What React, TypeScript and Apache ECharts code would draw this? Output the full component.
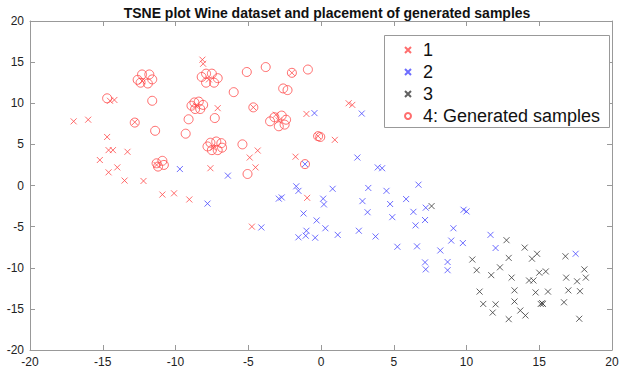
import React, { useEffect, useRef } from "react";
import * as echarts from "echarts";

const titleText = "TSNE plot Wine dataset and placement of generated samples";
const seriesNames = ["1", "2", "3", "4: Generated samples"];
const axisTicks = [-20, -15, -10, -5, 0, 5, 10, 15, 20];

const class1: number[][] = [
  [-8.15, 15.3], [-8.1, 14.8], [-12.3, 12.7], [-7.7, 12.9], [-14.5, 10.3], [-14.2, 10.4],
  [-8.6, 9.7], [-7.1, 9.4], [-17.0, 7.8], [-16.0, 8.0], [-12.8, 7.7], [-14.7, 5.9],
  [-14.6, 4.3], [-14.3, 4.3], [-13.3, 4.1], [-15.2, 3.1], [-7.4, 4.6], [-2.0, 13.7],
  [-4.65, 9.5], [-2.9, 7.9], [-3.1, 8.6], [-1.0, 8.7], [1.9, 10.0], [2.15, 9.8],
  [-0.2, 6.0], [0.95, 5.55], [-4.35, 4.25], [-4.9, 3.4], [-1.75, 3.5], [-11.3, 2.5],
  [-7.6, 2.1], [-14.0, 2.2], [-14.6, 1.6], [-13.5, 0.6], [-12.2, 0.55], [-10.9, -1.1],
  [-10.1, -0.95], [-9.05, -1.7], [-4.5, 2.2], [-0.95, -1.5], [-4.75, -5.0],
];

const class2: number[][] = [
  [-0.45, 8.8], [2.8, 8.75], [2.5, 3.4], [-9.7, 2.0], [-6.4, 1.2], [-7.8, -2.2],
  [-1.1, 2.6], [3.9, 2.2], [4.2, 2.1], [-1.7, -0.1], [-1.55, -0.65], [-2.9, -1.6],
  [-2.7, -1.45], [0.8, -0.4], [0.15, -1.6], [0.2, -2.3], [3.25, -0.3], [2.85, -1.9],
  [3.2, -3.25], [-1.2, -3.4], [-0.3, -4.25], [-4.1, -5.1], [0.3, -5.2], [-1.0, -5.5],
  [-1.05, -6.1], [-1.55, -6.3], [-0.4, -6.35], [1.15, -6.0], [2.6, -5.5], [3.75, -6.2],
  [4.5, -0.65], [6.7, 0.1], [4.75, -2.25], [5.85, -1.65], [4.9, -3.85], [6.35, -3.2],
  [7.2, -2.7], [7.15, -4.2], [9.8, -2.95], [10.0, -3.15], [6.5, -4.85], [9.1, -5.2],
  [5.25, -7.45], [6.6, -7.4], [8.95, -6.7], [9.75, -7.0], [8.2, -7.9], [11.65, -6.0],
  [12.0, -7.6], [8.7, -9.3], [8.7, -10.3], [7.15, -9.35], [7.2, -10.2], [17.5, -8.3],
];

const class3: number[][] = [
  [7.6, -2.5], [12.75, -6.65], [10.4, -9.0], [10.7, -10.3], [12.9, -8.8], [14.0, -7.55],
  [14.85, -8.3], [14.5, -8.9], [12.3, -9.95], [11.7, -10.9], [13.1, -11.2], [15.0, -10.6],
  [15.45, -10.45], [14.3, -11.55], [14.6, -11.55], [16.8, -8.6], [18.1, -10.2], [18.2, -11.2],
  [16.85, -11.2], [17.6, -11.65], [10.9, -12.9], [13.3, -12.75], [14.75, -13.0], [15.6, -12.9],
  [17.0, -12.75], [17.8, -12.85], [11.15, -14.4], [12.0, -14.45], [13.3, -14.1], [15.1, -14.4],
  [15.25, -14.4], [15.2, -14.3], [16.7, -14.2], [11.8, -15.45], [13.7, -15.2], [14.05, -15.8],
  [12.9, -16.25], [17.75, -16.2],
];

const generated: number[][] = [
  [-12.6, 12.85], [-12.3, 13.5], [-11.8, 13.5], [-11.6, 12.9], [-11.9, 12.4], [-12.4, 12.5],
  [-8.2, 13.2], [-7.9, 13.6], [-7.5, 13.6], [-7.1, 13.05], [-7.35, 12.5], [-7.9, 12.5],
  [-6.0, 11.35], [-14.7, 10.6], [-11.6, 10.3],
  [-8.9, 9.7], [-8.7, 10.1], [-8.4, 10.2], [-8.1, 9.8], [-8.3, 9.3], [-8.65, 9.3],
  [-9.1, 8.05], [-7.3, 8.2], [-12.8, 7.65], [-11.4, 6.65], [-9.3, 6.3],
  [-7.8, 4.75], [-7.6, 5.2], [-7.2, 5.35], [-6.85, 5.15], [-6.8, 4.6], [-7.1, 4.3], [-7.5, 4.3],
  [-11.3, 2.7], [-10.9, 3.0], [-10.8, 2.5], [-11.2, 2.3],
  [-5.1, 13.8], [-3.8, 14.4], [-2.0, 13.7], [-0.9, 14.1], [-2.6, 11.8], [-2.3, 11.6], [-4.65, 9.5],
  [-3.5, 7.8], [-3.2, 8.3], [-2.7, 8.5], [-2.4, 8.0], [-2.5, 7.4], [-2.9, 7.2],
  [-0.2, 6.0], [-0.05, 5.9], [-5.4, 5.0], [-1.1, 2.6], [-5.05, 1.4],
];

const CROSS = "path://M0 0L10 10M10 0L0 10";
const RED = "#ff4848";
const BLUE = "#4848ff";
const BLACK = "#3a3a3a";
const FONT = "Liberation Sans, Arial, sans-serif";

export default function App() {
  const ref = useRef<HTMLDivElement>(null);
  useEffect(() => {
    if (!ref.current) return;
    const chart = echarts.init(ref.current, undefined, { renderer: "svg" });
    const axisCommon = {
      type: "value" as const,
      min: axisTicks[0],
      max: axisTicks[axisTicks.length - 1],
      interval: 5,
      axisLine: { show: true, onZero: false, lineStyle: { color: "#999", width: 1 } },
      axisTick: { show: true, inside: true, length: 5, lineStyle: { color: "#999" } },
      splitLine: { show: false },
    };
    const label = { show: true, color: "#222", fontSize: 12, fontFamily: FONT, margin: 6 };
    const crossSeries = (name: string, data: number[][], color: string) => ({
      name,
      type: "scatter" as const,
      data,
      symbol: CROSS,
      symbolSize: 6,
      itemStyle: { color: "transparent", borderColor: color, borderWidth: 1 },
      emphasis: { disabled: true },
    });
    chart.setOption({
      animation: false,
      title: {
        text: titleText,
        left: 322,
        top: 1,
        textAlign: "center",
        textStyle: { fontSize: 14, fontWeight: "bold", fontFamily: FONT, color: "#111" },
      },
      grid: { left: 30, right: 16, top: 21, bottom: 24 },
      xAxis: [
        { ...axisCommon, position: "bottom", axisLabel: label },
        { ...axisCommon, position: "top", axisLabel: { show: false } },
      ],
      yAxis: [
        { ...axisCommon, position: "left", axisLabel: label },
        { ...axisCommon, position: "right", axisLabel: { show: false } },
      ],
      graphic: [
        {
          type: "rect",
          z: 3,
          shape: { x: 384.5, y: 35.5, width: 225, height: 92 },
          style: { fill: "#fff", stroke: "#999", lineWidth: 1 },
        },
      ],
      legend: {
        z: 5,
        orient: "vertical",
        left: 404,
        top: 41,
        padding: 0,
        itemWidth: 6,
        itemHeight: 6,
        itemGap: 4,
        selectedMode: false,
        textStyle: { fontSize: 18, fontFamily: FONT, color: "#111", padding: [0, 0, 0, 7] },
        data: [
          { name: seriesNames[0], icon: CROSS },
          { name: seriesNames[1], icon: CROSS },
          { name: seriesNames[2], icon: CROSS },
          { name: seriesNames[3], icon: "circle" },
        ],
      },
      series: [
        crossSeries(seriesNames[0], class1, RED),
        crossSeries(seriesNames[1], class2, BLUE),
        crossSeries(seriesNames[2], class3, BLACK),
        {
          name: seriesNames[3],
          type: "scatter",
          data: generated,
          symbol: "circle",
          symbolSize: 9,
          itemStyle: { color: "transparent", borderColor: RED, borderWidth: 1 },
          emphasis: { disabled: true },
        },
      ],
    });
    return () => chart.dispose();
  }, []);
  return (
    <div
      ref={ref}
      style={{ position: "fixed", left: 0, top: 0, width: 628, height: 374, background: "#fff" }}
    />
  );
}
